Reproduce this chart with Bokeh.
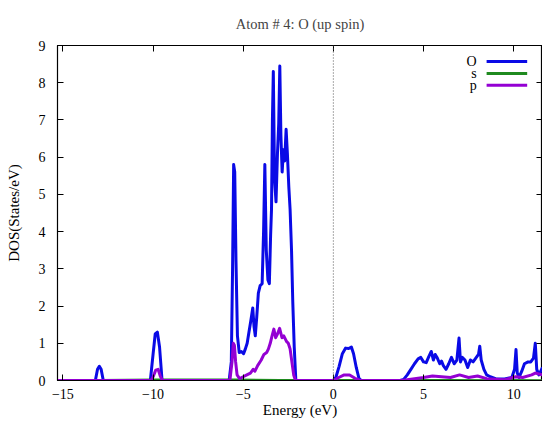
from bokeh.plotting import figure
from bokeh.models import Range1d, FixedTicker, LinearAxis, Span, ColumnDataSource, Label
from bokeh.embed import file_html
from bokeh.resources import INLINE

# ---------------- data ----------------
title_text = "Atom # 4: O (up spin)"
x_label = "Energy (eV)"
y_label = "DOS(States/eV)"
x_ticks = [-15, -10, -5, 0, 5, 10]
y_ticks = [0, 1, 2, 3, 4, 5, 6, 7, 8, 9]
series_names = ["O", "s", "p"]
series_colors = ["#0a0ae6", "#1f8a1f", "#9400d3"]
fermi_level = 0.0

energy_O = [-15.3, -13.2, -13.08, -12.98, -12.88, -12.76,
            -10.15, -10.0, -9.88, -9.76, -9.64, -9.5,
            -5.78, -5.66, -5.59, -5.53, -5.47, -5.4, -5.32, -5.22, -5.1, -4.98,
            -4.88, -4.78, -4.68, -4.58, -4.47, -4.4, -4.33, -4.25, -4.16, -4.06,
            -3.95, -3.87, -3.8, -3.72, -3.63, -3.55, -3.48, -3.43, -3.38, -3.33,
            -3.26, -3.18, -3.1, -3.03, -2.97, -2.91, -2.84, -2.77, -2.7, -2.62,
            -2.55, -2.47, -2.4, -2.32, -2.25, -2.17, -2.08,
            0.0, 0.15, 0.32, 0.5, 0.68, 0.85, 1.0, 1.12, 1.27, 1.42, 1.55,
            3.7, 3.9, 4.1, 4.3, 4.5, 4.7, 4.85, 5.0, 5.15, 5.3, 5.43, 5.55, 5.65,
            5.75, 5.9, 6.0, 6.1, 6.25, 6.4, 6.55, 6.7, 6.85, 6.97, 7.05, 7.15, 7.3,
            7.45, 7.6, 7.75, 7.9, 8.05, 8.12, 8.2, 8.35, 8.5, 8.7, 9.0, 9.5, 9.9,
            10.05, 10.13, 10.2, 10.3, 10.45, 10.6, 10.8, 10.95, 11.1, 11.2, 11.28,
            11.4, 11.6]
dos_O = [0, 0, 0.3, 0.38, 0.3, 0,
         0, 0.7, 1.25, 1.3, 0.9, 0,
         0, 0.5, 3.0, 5.8, 5.6, 3.2, 1.2, 0.75, 0.78, 0.72,
         0.85, 1.0, 1.3, 1.6, 1.95, 1.45, 1.2, 1.7, 2.35, 2.55,
         2.6, 4.0, 5.8, 3.5, 2.7, 2.6, 3.9, 4.6, 7.0, 8.3,
         5.4, 4.8, 6.1, 6.9, 8.45, 6.6, 5.6, 6.2, 5.9, 6.75,
         6.1, 5.2, 4.6, 3.5, 2.1, 0.9, 0,
         0, 0.1, 0.38, 0.72, 0.87, 0.86, 0.9, 0.72, 0.35, 0.06, 0,
         0, 0.03, 0.15, 0.3, 0.45, 0.58, 0.62, 0.5, 0.48, 0.65, 0.78, 0.55, 0.7,
         0.62, 0.45, 0.52, 0.4, 0.3, 0.45, 0.62, 0.45, 0.55, 1.14, 0.5, 0.62, 0.55,
         0.35, 0.55, 0.5, 0.6, 0.7, 0.92, 0.55, 0.3, 0.15, 0.1, 0.05, 0.04, 0.08,
         0.3, 0.83, 0.2, 0.08, 0.25, 0.45, 0.5, 0.5, 0.6, 1.0, 0.3,
         0.15, 0.35]

energy_s = [-15.3, -13.0, -9.8, -5.5, -3.0, 0.8, 6.0, 11.6]
dos_s = [0, 0.01, 0.02, 0.02, 0.01, 0.01, 0.01, 0]

energy_p = [-15.3, -10.1, -9.98, -9.85, -9.72, -9.6, -9.48,
            -5.74, -5.62, -5.55, -5.49, -5.42, -5.34, -5.2, -5.0, -4.8, -4.6,
            -4.45, -4.35, -4.2, -4.0, -3.85, -3.7, -3.6, -3.5, -3.4, -3.3, -3.2,
            -3.1, -2.98, -2.85, -2.75, -2.6, -2.5, -2.4, -2.3, -2.2, -2.1,
            0.0, 0.3, 0.6, 0.9, 1.2, 1.5,
            3.8, 4.5, 5.0, 5.5, 6.0, 6.5, 7.0, 7.5, 8.0, 8.5, 9.5, 10.1, 10.5,
            11.0, 11.2, 11.6]
dos_p = [0, 0, 0.12, 0.28, 0.3, 0.12, 0,
         0, 0.5, 1.0, 0.95, 0.5, 0.15, 0.05, 0.1, 0.15, 0.2,
         0.3, 0.25, 0.4, 0.55, 0.7, 0.75, 0.85, 1.0, 1.2, 1.38, 1.15,
         1.25, 1.4, 1.15, 1.2, 1.05, 1.0, 0.85, 0.5, 0.15, 0,
         0, 0.08, 0.15, 0.15, 0.06, 0,
         0, 0.05, 0.08, 0.12, 0.1, 0.08, 0.15, 0.08, 0.12, 0.05, 0.02, 0.1, 0.08,
         0.15, 0.2, 0.15]

assert len(energy_O) == len(dos_O), (len(energy_O), len(dos_O))
assert len(energy_s) == len(dos_s)
assert len(energy_p) == len(dos_p), (len(energy_p), len(dos_p))

FONT = "Liberation Serif"

p = figure(width=542, height=420, x_range=Range1d(-15.3, 11.6), y_range=Range1d(0, 9),
           output_backend="svg", toolbar_location=None, title=title_text,
           min_border_left=57, min_border_right=0, min_border_top=44, min_border_bottom=20)
p.title.align = "center"
p.title.text_font = FONT
p.title.text_font_size = "14.5px"
p.title.text_font_style = "normal"
p.title.standoff = 27
p.xgrid.visible = False
p.ygrid.visible = False
p.outline_line_color = "black"
p.outline_line_width = 1.2
p.background_fill_color = "white"
p.border_fill_color = "white"

for ax in (p.xaxis[0], p.yaxis[0]):
    ax.major_tick_in = 6
    ax.major_tick_out = 0
    ax.minor_tick_line_color = None
    ax.axis_line_color = "black"
    ax.major_tick_line_color = "black"
    ax.major_label_text_font = FONT
    ax.major_label_text_font_size = "14px"
    ax.major_label_text_color = "black"
    ax.axis_label_text_font = FONT
    ax.axis_label_text_font_size = "15px"
    ax.axis_label_text_font_style = "normal"
    ax.axis_label_text_color = "black"

p.xaxis.ticker = FixedTicker(ticks=x_ticks)
p.yaxis.ticker = FixedTicker(ticks=y_ticks)
p.xaxis.axis_label = x_label
p.yaxis.axis_label = y_label
p.xaxis.major_label_standoff = 8
p.xaxis.axis_label_standoff = 0
p.yaxis.major_label_standoff = 12
p.yaxis.axis_label_standoff = 14

# mirrored inward ticks on top and right (gnuplot style), no labels
for loc, ticks in (("above", x_ticks), ("right", y_ticks)):
    ax = LinearAxis(ticker=FixedTicker(ticks=ticks), major_label_text_font_size="0px",
                    major_label_text_color=None,
                    major_tick_in=6, major_tick_out=0, minor_tick_line_color=None,
                    major_label_standoff=0, axis_line_color="black")
    p.add_layout(ax, loc)

p.add_layout(Span(location=fermi_level, dimension="height", line_color="#555555",
                  line_dash="1 2", line_width=1))

sources = [ColumnDataSource(dict(x=energy_O, y=dos_O)),
           ColumnDataSource(dict(x=energy_s, y=dos_s)),
           ColumnDataSource(dict(x=energy_p, y=dos_p))]
widths = [3, 2.5, 3]
for src, col, w in zip(sources, series_colors, widths):
    p.line("x", "y", source=src, line_color=col, line_width=w, line_join="round")

# legend (gnuplot style: label on the left, sample line on the right)
leg_text_x = 7.95
leg_line_x0, leg_line_x1 = 8.5, 10.75
leg_rows = [8.57, 8.25, 7.93]
for name, col, yy in zip(series_names, series_colors, leg_rows):
    p.add_layout(Label(x=leg_text_x, y=yy, text=name, text_align="right",
                       text_baseline="middle", text_font=FONT, text_font_size="14px",
                       text_color="black"))
    p.line([leg_line_x0, leg_line_x1], [yy, yy], line_color=col, line_width=3)

open("out.html", "w").write(file_html(p, INLINE))
